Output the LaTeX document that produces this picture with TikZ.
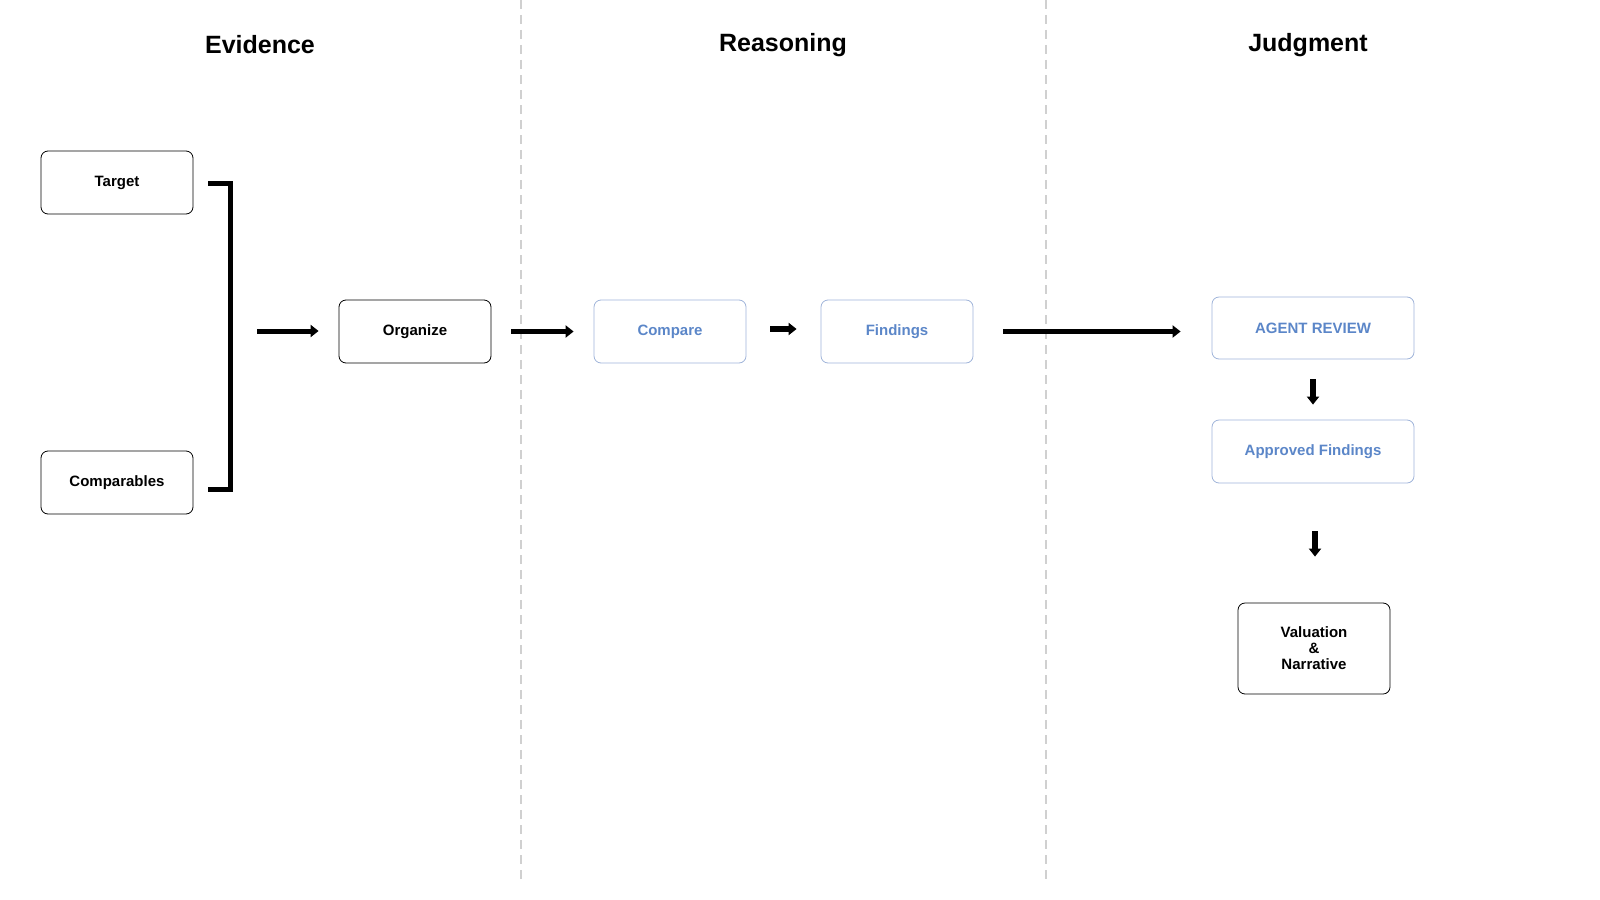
\documentclass[tikz,border=0pt]{standalone}
\usepackage{fontspec}
\setmainfont{Liberation Sans}
\usetikzlibrary{arrows.meta}
\definecolor{bl}{HTML}{5B86C8}
\definecolor{blb}{HTML}{9FB3D9}
\definecolor{dashgray}{HTML}{D0D0D0}
\begin{document}
\begin{tikzpicture}[x=1pt,y=-1pt,
 box/.style={draw=black,rounded corners=7pt,line width=0.8pt,minimum width=152pt,minimum height=63pt,font=\bfseries\fontsize{15}{17}\selectfont,align=center,inner sep=0pt},
 bbox/.style={box,draw=blb,text=bl},
 title/.style={font=\bfseries\fontsize{25}{28}\selectfont},
 divider/.style={draw=dashgray,line width=1.5pt,dash pattern=on 9pt off 6pt},
 arr/.style={line width=5pt,-{Triangle[length=8pt,width=12pt]}}]
\useasboundingbox (0,0) rectangle (1600,899);
\draw[divider] (521,0) -- (521,882);
\draw[divider] (1046,0) -- (1046,882);
\node[title] (t1) at (260,45) {Evidence};
\node[title] (t2) at (783,45) {Reasoning};
\node[title] (t3) at (1308,45) {Judgment};
\node[box] (target) at (117,182.5) {Target};
\node[box] (comp) at (117,482.5) {Comparables};
\node[box] (org) at (415,331.5) {Organize};
\node[bbox] (cmp) at (670,331.5) {Compare};
\node[bbox] (find) at (897,331.5) {Findings};
\node[bbox,minimum width=202pt,minimum height=62pt] (agent) at (1313,328) {AGENT REVIEW};
\node[bbox,minimum width=202pt] (appr) at (1313,451.5) {Approved Findings};
\node[box,minimum height=91pt] (val) at (1314,648.5) {Valuation\\[-1pt]\&\\[-1pt]Narrative};
\draw[line width=5pt] (208,183) -- (230,183) -- (230,489) -- (208,489);
\coordinate (br) at (230,331);
\draw[arr,shorten <=27pt,shorten >=20pt] (br) -- (org.west|-br);
\draw[arr,shorten <=20pt,shorten >=20pt] (org.east) -- (cmp.west);
\draw[arr,line width=6pt,shorten <=24pt,shorten >=24pt] ([yshift=2.5pt]cmp.east) -- ([yshift=2.5pt]find.west);
\draw[arr,shorten <=30pt,shorten >=31pt] (find.east) -- (find.east-|agent.west);
\draw[arr,line width=6pt,shorten <=20pt,shorten >=15pt] (agent.south) -- (appr.north);
\draw[arr,line width=6pt,shorten <=48pt,shorten >=46pt] ([xshift=2pt]appr.south) -- ([xshift=1pt]val.north);
\end{tikzpicture}
\end{document}
